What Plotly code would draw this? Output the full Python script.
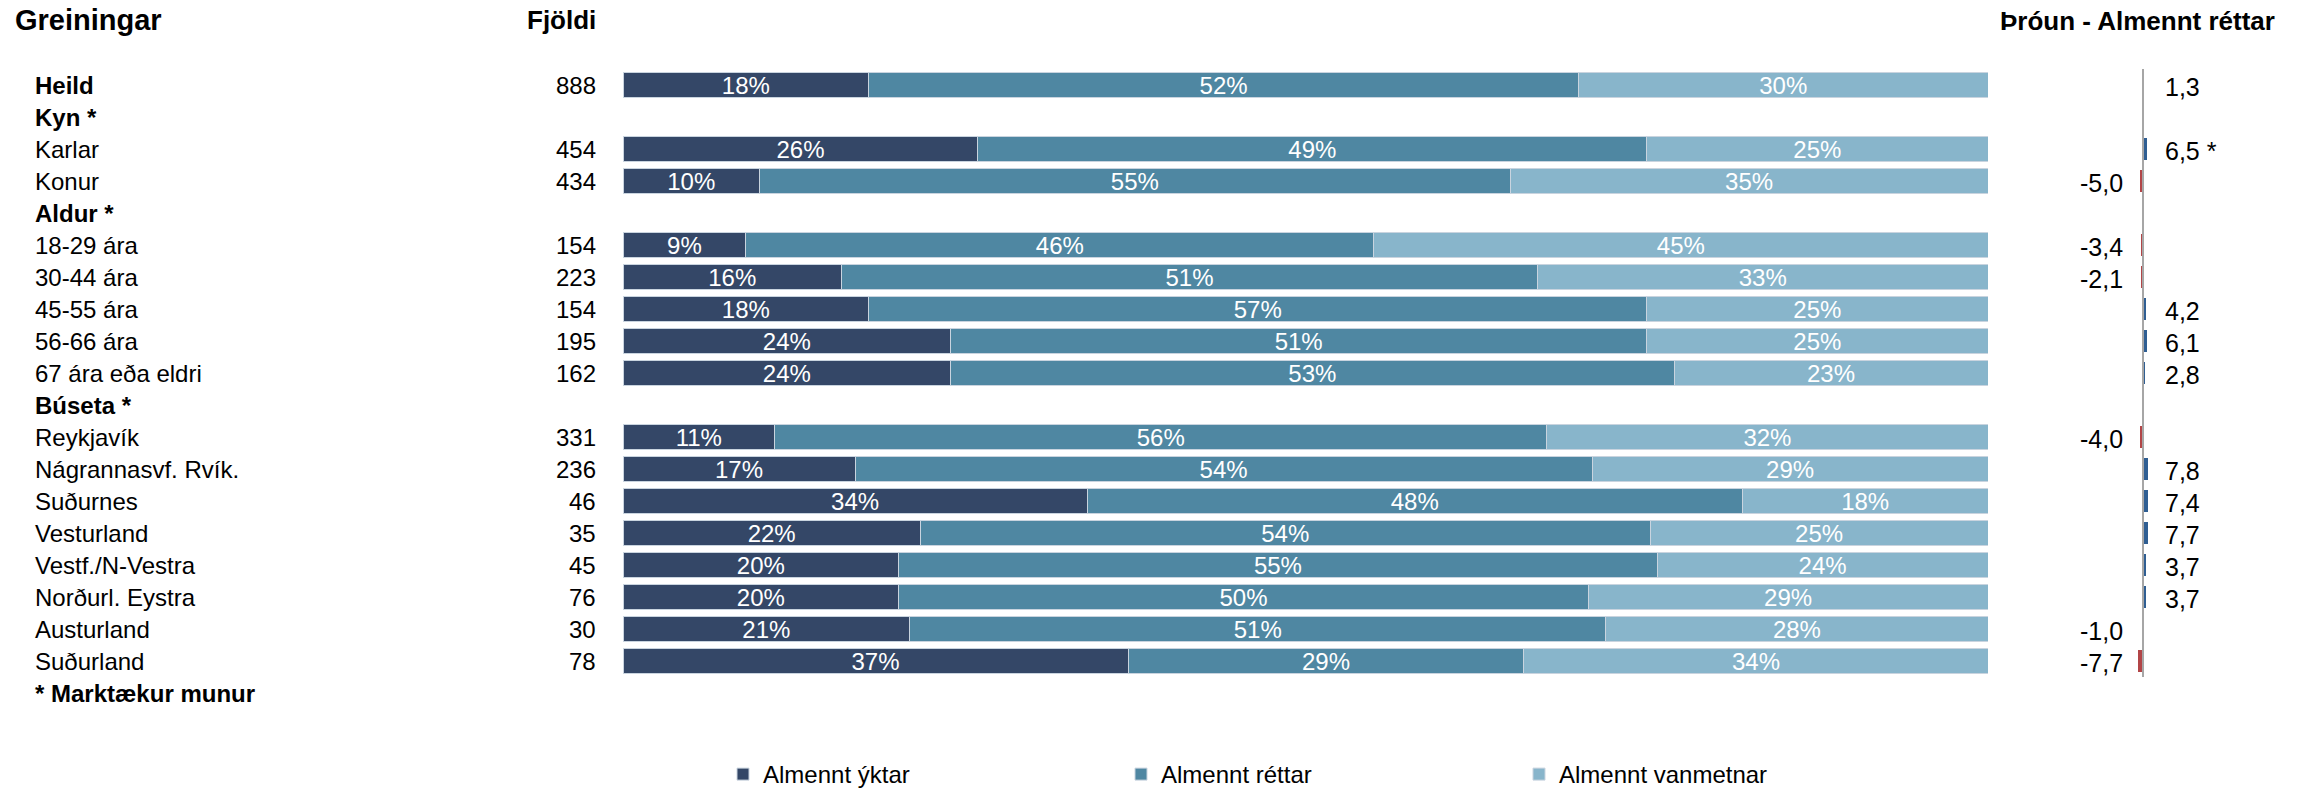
import plotly.graph_objects as go

# ---------------- data ----------------
labels = ["Heild", "Kyn *", "Karlar", "Konur", "Aldur *", "18-29 ára", "30-44 ára",
          "45-55 ára", "56-66 ára", "67 ára eða eldri", "Búseta *", "Reykjavík",
          "Nágrannasvf. Rvík.", "Suðurnes", "Vesturland", "Vestf./N-Vestra",
          "Norðurl. Eystra", "Austurland", "Suðurland", "* Marktækur munur"]
bold_labels = ["Heild", "Kyn *", "Aldur *", "Búseta *", "* Marktækur munur"]

data_rows = ["Heild", "Karlar", "Konur", "18-29 ára", "30-44 ára", "45-55 ára",
             "56-66 ára", "67 ára eða eldri", "Reykjavík", "Nágrannasvf. Rvík.",
             "Suðurnes", "Vesturland", "Vestf./N-Vestra", "Norðurl. Eystra",
             "Austurland", "Suðurland"]
counts = [888, 454, 434, 154, 223, 154, 195, 162, 331, 236, 46, 35, 45, 76, 30, 78]
ofmetnar = [18, 26, 10, 9, 16, 18, 24, 24, 11, 17, 34, 22, 20, 20, 21, 37]
rettar = [52, 49, 55, 46, 51, 57, 51, 53, 56, 54, 48, 54, 55, 50, 51, 29]
vanmetnar = [30, 25, 35, 45, 33, 25, 25, 23, 32, 29, 18, 25, 24, 29, 28, 34]
trend = [1.3, 6.5, -5.0, -3.4, -2.1, 4.2, 6.1, 2.8, -4.0, 7.8, 7.4, 7.7, 3.7, 3.7, -1.0, -7.7]
trend_sig = ["Karlar"]

series_names = ["Almennt ýktar", "Almennt réttar", "Almennt vanmetnar"]
series_colors = ["#344767", "#4F87A2", "#88B5CB"]

# ---------------- layout constants ----------------
W, H = 2300, 798
TOP, BOTTOM = 69, 89
FONT = "Liberation Sans, Arial, sans-serif"
FS = 24
plot_h = H - TOP - BOTTOM

def py(px_from_top):
    return (H - BOTTOM - px_from_top) / plot_h

row_of = {lab: i for i, lab in enumerate(labels)}
ys = [row_of[r] for r in data_rows]

fig = go.Figure()

totals = [a + b + c for a, b, c in zip(ofmetnar, rettar, vanmetnar)]
for name, vals, col in zip(series_names, [ofmetnar, rettar, vanmetnar], series_colors):
    fig.add_trace(go.Bar(
        name=name, orientation="h",
        x=[v / t * 100 for v, t in zip(vals, totals)], y=ys,
        marker=dict(color=col, line=dict(color="#C9D4DF", width=1)),
        text=[f"{v}%" for v in vals], textposition="inside",
        insidetextanchor="middle", constraintext="none",
        textfont=dict(color="white", size=24, family=FONT),
        xaxis="x", yaxis="y", hoverinfo="skip",
    ))

trend_colors = ["#2F5E92" if v >= 0 else "#B24547" for v in trend]
fig.add_trace(go.Bar(
    orientation="h", x=trend, y=ys, width=0.68,
    marker=dict(color=trend_colors, line=dict(width=0)),
    xaxis="x2", yaxis="y", showlegend=False, hoverinfo="skip",
))

ann = []
for lab in labels:
    ann.append(dict(x=33 / W, xref="paper", xanchor="left", y=row_of[lab], yref="y",
                    text=f"<b>{lab}</b>" if lab in bold_labels else lab, showarrow=False,
                    font=dict(size=FS, color="black", family=FONT)))
for r, n in zip(data_rows, counts):
    ann.append(dict(x=598 / W, xref="paper", xanchor="right", y=row_of[r], yref="y",
                    text=str(n), showarrow=False, font=dict(size=FS, color="black", family=FONT)))
for r, v in zip(data_rows, trend):
    txt = f"{v:.1f}".replace(".", ",") + (" *" if r in trend_sig else "")
    ann.append(dict(x=0, xref="x2", y=row_of[r], yref="y", text=txt, showarrow=False,
                    xanchor="left" if v >= 0 else "right", xshift=20 if v >= 0 else -18,
                    yshift=-2, font=dict(size=25, color="black", family=FONT)))

ann += [
    dict(x=13 / W, xref="paper", xanchor="left", y=py(20), yref="paper", yanchor="middle",
         text="<b>Greiningar</b>", showarrow=False, font=dict(size=29, color="black", family=FONT)),
    dict(x=598 / W, xref="paper", xanchor="right", y=py(20), yref="paper", yanchor="middle",
         text="<b>Fjöldi</b>", showarrow=False, font=dict(size=26, color="black", family=FONT)),
    dict(x=2277 / W, xref="paper", xanchor="right", y=py(21), yref="paper", yanchor="middle",
         text="<b>Þróun - Almennt réttar</b>", showarrow=False,
         font=dict(size=26, color="black", family=FONT)),
]

zero_px = 2143
x2_dom = (2060, 2230)
ppu = 0.68
x2_range = [-(zero_px - x2_dom[0]) / ppu, (x2_dom[1] - zero_px) / ppu]

fig.update_layout(
    width=W, height=H,
    margin=dict(l=0, r=0, t=TOP, b=BOTTOM, autoexpand=False),
    paper_bgcolor="white", plot_bgcolor="white",
    barmode="stack", bargap=0.22,
    font=dict(family=FONT, size=FS, color="black"),
    xaxis=dict(domain=[623 / W, 1988 / W], range=[0, 100], visible=False, fixedrange=True),
    xaxis2=dict(domain=[x2_dom[0] / W, x2_dom[1] / W], range=x2_range, visible=False,
                anchor="y", fixedrange=True),
    yaxis=dict(range=[len(labels) - 0.5, -0.5], visible=False, fixedrange=True),
    shapes=[dict(type="line", xref="x2", yref="y", x0=0, x1=0, y0=-0.5, y1=len(data_rows) + 2.5,
                 line=dict(color="#A6A6A6", width=2))],
    annotations=ann,
    legend=dict(orientation="h", x=723 / W, xanchor="left", y=py(797), yanchor="bottom",
                font=dict(size=24, family=FONT), entrywidth=353, entrywidthmode="pixels",
                itemwidth=30, traceorder="normal"),
    showlegend=True,
)

fig.write_html("out.html", config={"displayModeBar": False},
               post_script="document.body.style.margin='0';")
